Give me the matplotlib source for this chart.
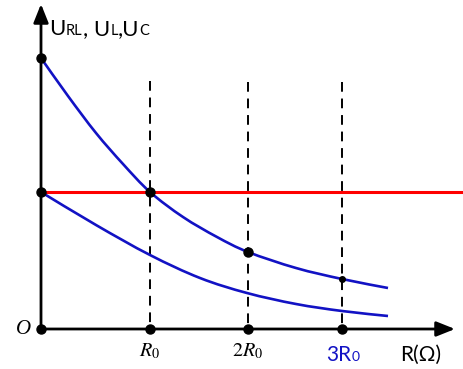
import matplotlib
matplotlib.use("Agg")
import matplotlib.pyplot as plt
from matplotlib.path import Path
from matplotlib.patches import PathPatch

# ---- data (arbitrary units: x from origin, y from the R axis) ----
tick_x = [109, 207, 301]
tick_labels = ["$R_0$", "$2R_0$", None]          # 3R0 is drawn in blue text
u_c = 137                                          # red horizontal line (U_C)
upper_x = [0, 27, 55, 82, 109, 142, 176, 207, 255, 301, 347]
upper_y = [271, 233, 196, 165, 137, 112, 92, 77, 61, 50, 41]
lower_x = [0, 55, 109, 159, 206, 255, 301, 347]
lower_y = [137, 104, 74, 51, 36, 25, 18, 13]
axis_dots_y = [271, 137]
dash_top = [248, 247, 247]

BLUE = "#1212c4"
fig = plt.figure(figsize=(4.64, 3.69), dpi=100)
ax = fig.add_axes([0, 0, 1, 1])
ax.set_xlim(-41, 423)
ax.set_ylim(-40, 329)
ax.axis("off")


def smooth_path(xs, ys):
    """Catmull-Rom knots rendered as cubic Bezier segments by matplotlib."""
    pts = list(zip(xs, ys))
    verts = [pts[0]]
    codes = [Path.MOVETO]
    n = len(pts)
    for i in range(n - 1):
        p0 = pts[i - 1] if i > 0 else pts[i]
        p1, p2 = pts[i], pts[i + 1]
        p3 = pts[i + 2] if i + 2 < n else pts[i + 1]
        c1 = (p1[0] + (p2[0] - p0[0]) / 6, p1[1] + (p2[1] - p0[1]) / 6)
        c2 = (p2[0] - (p3[0] - p1[0]) / 6, p2[1] - (p3[1] - p1[1]) / 6)
        verts += [c1, c2, p2]
        codes += [Path.CURVE4] * 3
    return Path(verts, codes)


# dashed verticals (pattern starts at the top)
for x, t in zip(tick_x, dash_top):
    ax.plot([x, x], [t, 0], color="black", lw=1.4, ls=(0, (5, 3.5)), zorder=2)

# red line
ax.plot([0, 423], [u_c, u_c], color="#ff0000", lw=2.2, zorder=3, solid_capstyle="butt")

# curves
for xs, ys in ((upper_x, upper_y), (lower_x, lower_y)):
    ax.add_patch(PathPatch(smooth_path(xs, ys), facecolor="none", edgecolor=BLUE,
                           lw=1.9, zorder=4, capstyle="butt"))

# axes with arrows
for xy in ((0, 325), (414, 0)):
    ax.annotate("", xy=xy, xytext=(0, 0),
                arrowprops=dict(arrowstyle="-|>,head_length=0.75,head_width=0.3",
                                lw=2, color="black", mutation_scale=15,
                                shrinkA=0, shrinkB=0), zorder=5)

# dots
ax.plot([0] + tick_x, [0] * 4, "o", color="black", ms=6.5, zorder=6)
ax.plot([0] * len(axis_dots_y), axis_dots_y, "o", color="black", ms=6.5, zorder=6)
ax.plot([tick_x[0]], [u_c], "o", color="black", ms=6.5, zorder=6)
ax.plot([tick_x[1]], [upper_y[7]], "o", color="black", ms=6.5, zorder=6)
ax.plot([tick_x[2]], [upper_y[9]], "o", color="black", ms=4, zorder=6)

# tick labels
plt.rcParams["mathtext.fontset"] = "stix"
for x, lab in zip(tick_x, tick_labels):
    if lab:
        ax.text(x, -27, lab, ha="center", va="baseline", fontsize=14.5,
                family="STIXGeneral")

ax.text(-10, 0, "O", ha="right", va="center", fontsize=15, style="italic",
        family="Liberation Serif")

FONT = "Lato"
renderer = fig.canvas.get_renderer()


def chain(x_px, y_px, pieces):
    """Draw consecutive text pieces at a common baseline (figure pixels)."""
    for s, size, color in pieces:
        t = fig.text(x_px / fig.bbox.width, y_px / fig.bbox.height, s,
                     fontsize=size, color=color, family=FONT,
                     ha="left", va="baseline")
        bb = t.get_window_extent(renderer)
        x_px = bb.x1 + 0.3


H = 369
chain(49, H - 35, [("U", 16, "black"), ("RL", 10.5, "black"), (", U", 16, "black"),
                   ("L", 10.5, "black"), (",U", 16, "black"), ("C", 10.5, "black")])
chain(326, H - 361, [("3R", 15, BLUE), ("0", 10, BLUE)])
chain(400, H - 361, [("R(Ω)", 15, "black")])

fig.savefig("out.png", dpi=100)
